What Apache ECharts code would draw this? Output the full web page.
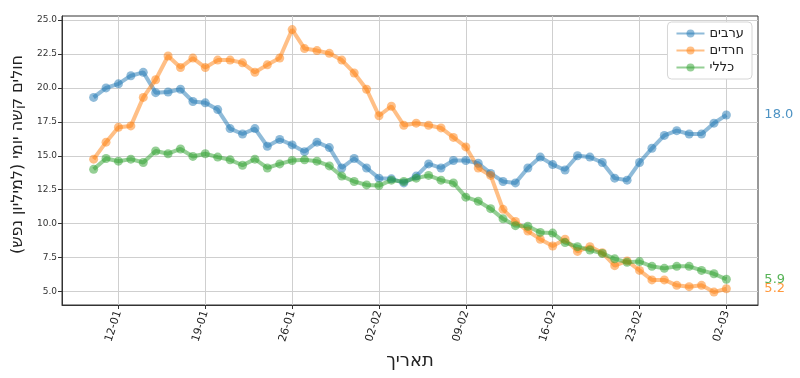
<!DOCTYPE html>
<html><head>
<meta charset="utf-8">
<title>חולים קשה יומי</title>
<script src="https://cdn.jsdelivr.net/npm/echarts@6/dist/echarts.min.js"></script>
<style>body{margin:0;background:#fff}#main{width:800px;height:378px}</style>
</head>
<body>
<div id="main"></div>
<script>
// נתונים: ערך יומי לכל קבוצה, 10-01 עד 02-03
var arabs = [19.3, 20.0, 20.3, 20.9, 21.15, 19.65, 19.7, 19.9, 19.0, 18.9,
  18.4, 17.0, 16.6, 17.0, 15.7, 16.2, 15.8, 15.3, 16.0, 15.6,
  14.1, 14.8, 14.1, 13.35, 13.3, 13.0, 13.5, 14.4, 14.1, 14.65,
  14.65, 14.45, 13.7, 13.1, 13.0, 14.1, 14.9, 14.35, 13.95, 15.0,
  14.9, 14.5, 13.35, 13.2, 14.5, 15.55, 16.5, 16.85, 16.6, 16.6,
  17.4, 18.0];
var haredim = [14.75, 16.0, 17.1, 17.2, 19.3, 20.6, 22.35, 21.5, 22.2, 21.5,
  22.05, 22.05, 21.85, 21.15, 21.7, 22.2, 24.3, 22.9, 22.75, 22.55,
  22.05, 21.1, 19.9, 17.95, 18.65, 17.25, 17.4, 17.25, 17.05, 16.35,
  15.65, 14.1, 13.55, 11.05, 10.15, 9.45, 8.85, 8.35, 8.85, 7.95,
  8.3, 7.85, 6.9, 7.25, 6.55, 5.85, 5.85, 5.45, 5.35, 5.45,
  4.95, 5.2];
var general = [14.0, 14.8, 14.6, 14.75, 14.5, 15.35, 15.15, 15.5, 14.95, 15.15,
  14.9, 14.7, 14.3, 14.75, 14.1, 14.4, 14.65, 14.7, 14.6, 14.25,
  13.5, 13.1, 12.85, 12.8, 13.2, 13.1, 13.35, 13.55, 13.2, 13.0,
  11.95, 11.65, 11.1, 10.35, 9.85, 9.8, 9.35, 9.3, 8.6, 8.3,
  8.05, 7.8, 7.4, 7.15, 7.2, 6.85, 6.7, 6.85, 6.85, 6.55,
  6.3, 5.9];
var tickIdx = [2, 9, 16, 23, 30, 37, 44, 51];
var tickLabels = ['12-01', '19-01', '26-01', '02-02', '09-02', '16-02', '23-02', '02-03'];
var names = ['ערבים', 'חרדים', 'כללי'];
var colors = ['#1f77b4', '#ff7f0e', '#2ca02c'];
var yTicks = [5, 7.5, 10, 12.5, 15, 17.5, 20, 22.5, 25];

function pairs(arr) {
  return arr.map(function (v, i) { return [i, v]; });
}

var myChart = echarts.init(document.getElementById('main'));
var font = 'DejaVu Sans';

function mkSeries(name, data, color) {
  return {
    name: name,
    type: 'line',
    data: pairs(data),
    color: color,
    symbol: 'circle',
    symbolSize: 9,
    showAllSymbol: true,
    lineStyle: { width: 4, opacity: 0.5 },
    itemStyle: { opacity: 0.5 },
    emphasis: { disabled: true },
    endLabel: {
      show: true,
      formatter: function (p) { return p.value[1].toFixed(1); },
      color: color,
      opacity: 0.8,
      fontFamily: font,
      fontSize: 13,
      offset: [30, 0]
    },
    z: 3
  };
}

var option = {
  animation: false,
  textStyle: { fontFamily: font },
  grid: { left: 62, right: 42, top: 16, bottom: 73, show: true, borderColor: '#333', borderWidth: 1 },
  legend: {
    right: 48, top: 22, orient: 'vertical',
    backgroundColor: '#fff', borderColor: '#d6d6d6', borderWidth: 1, borderRadius: 4,
    padding: [5, 8, 5, 8], itemGap: 4, itemWidth: 28, itemHeight: 10,
    textStyle: { fontSize: 13, color: '#222', fontFamily: font },
    data: names
  },
  xAxis: {
    type: 'value', min: -2.55, max: 53.55,
    name: 'תאריך', nameLocation: 'middle', nameGap: 47,
    nameTextStyle: { fontSize: 18, color: '#222', fontFamily: font },
    axisLine: { show: true, onZero: false, lineStyle: { color: '#333' } },
    axisTick: { show: true, customValues: tickIdx, length: 4, lineStyle: { color: '#333' } },
    axisLabel: {
      customValues: tickIdx, rotate: 72, fontSize: 11, color: '#222', margin: 6,
      padding: [0, 0, 0, 0],
      formatter: function (v) { var k = tickIdx.indexOf(v); return k >= 0 ? tickLabels[k] : ''; }
    },
    splitLine: { show: true, lineStyle: { color: '#cfcfcf' } }
  },
  yAxis: {
    type: 'value', min: 4.0, max: 25.3,
    name: 'חולים קשה יומי (למיליון נפש)', nameLocation: 'middle', nameGap: 30, nameRotate: 90,
    nameTextStyle: { fontSize: 16, color: '#222', fontFamily: font, padding: [0, 0, 0, 12] },
    axisLine: { show: true, onZero: false, lineStyle: { color: '#333' } },
    axisTick: { show: true, customValues: yTicks, length: 4, lineStyle: { color: '#333' } },
    axisLabel: {
      customValues: yTicks, fontSize: 9, color: '#333', margin: 5,
      formatter: function (v) { return v.toFixed(1); }
    },
    splitLine: { show: true, lineStyle: { color: '#cfcfcf' } }
  },
  series: [
    mkSeries(names[0], arabs, colors[0]),
    mkSeries(names[1], haredim, colors[1]),
    mkSeries(names[2], general, colors[2])
  ]
};
myChart.setOption(option);
</script>
</body>
</html>
